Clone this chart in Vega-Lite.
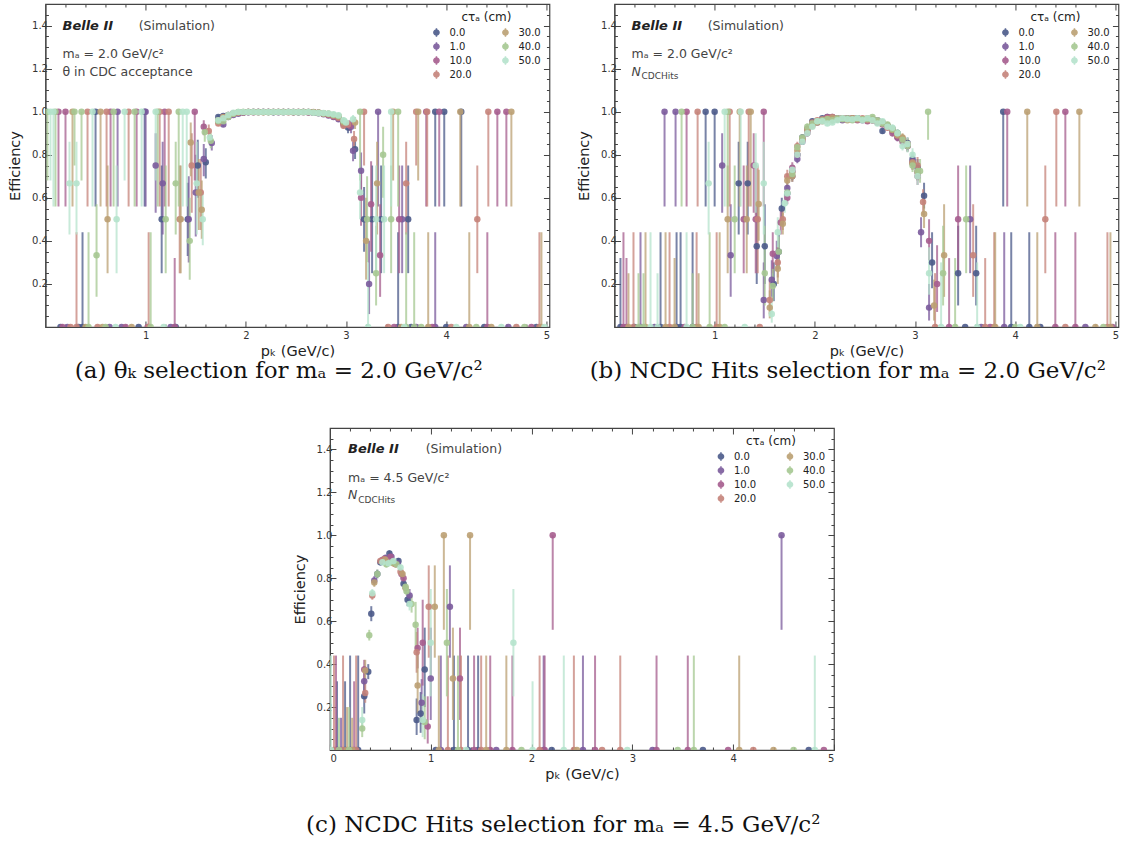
{
"$schema":"https://vega.github.io/schema/vega-lite/v6.json",
"background":"white",
"padding":{"left":6,"top":2,"right":2,"bottom":2},
"config":{"font":"DejaVu Sans","view":{"stroke":"#444","strokeWidth":1.2},
"axis":{"grid":false,"labelFontSize":10,"labelColor":"#333","titleFontSize":14.5,"titleFontWeight":"normal","titleColor":"#222","tickColor":"#444","domainColor":"#444","tickSize":-6,"labelPadding":4},
"axisX":{"labelPadding":9},
"axisY":{"titlePadding":9},
"legend":{"orient":"top-right","offset":8,"columns":2,"columnPadding":28,"rowPadding":1,"clipHeight":13,"labelOffset":8,"titlePadding":2,"titleFontSize":12,"titleFontWeight":"normal","titleColor":"#222","titleAnchor":"middle","labelFontSize":10,"labelColor":"#222","symbolType":"M0,-1.35L0,1.35M-0.8,0A0.8,0.8 0 1,0 0.8,0A0.8,0.8 0 1,0 -0.8,0Z","symbolSize":42,"symbolStrokeWidth":1.5,"symbolOpacity":0.9}},
"datasets":{
"A":[
{"s":"40.0","x":0.02,"y":1,"lo":0.68,"hi":1},{"s":"50.0","x":0.05,"y":1,"lo":0.68,"hi":1},{"s":"50.0","x":0.08,"y":1,"lo":0.56,"hi":1},{"s":"40.0","x":0.1,"y":1,"lo":0.56,"hi":1},{"s":"10.0","x":0.13,"y":1,"lo":0.56,"hi":1},{"s":"10.0","x":0.2,"y":1,"lo":0.56,"hi":1},{"s":"30.0","x":0.27,"y":1,"lo":0.56,"hi":1},{"s":"40.0","x":0.29,"y":1,"lo":0.75,"hi":1},{"s":"40.0","x":0.36,"y":1,"lo":0.68,"hi":1},{"s":"20.0","x":0.42,"y":1,"lo":0.56,"hi":1},{"s":"50.0","x":0.47,"y":1,"lo":0.56,"hi":1},{"s":"0.0","x":0.5,"y":1,"lo":0.56,"hi":1},{"s":"30.0","x":0.55,"y":1,"lo":0.56,"hi":1},{"s":"20.0","x":0.61,"y":1,"lo":0.56,"hi":1},{"s":"10.0","x":0.65,"y":1,"lo":0.56,"hi":1},{"s":"40.0","x":0.68,"y":1,"lo":0.56,"hi":1},{"s":"1.0","x":0.72,"y":1,"lo":0.56,"hi":1},{"s":"50.0","x":0.79,"y":1,"lo":0.68,"hi":1},{"s":"20.0","x":0.83,"y":1,"lo":0.56,"hi":1},{"s":"40.0","x":0.89,"y":1,"lo":0.56,"hi":1},{"s":"10.0","x":0.91,"y":1,"lo":0.56,"hi":1},{"s":"50.0","x":0.96,"y":1,"lo":0.56,"hi":1},{"s":"0.0","x":0.99,"y":1,"lo":0.56,"hi":1},{"s":"1.0","x":1.0,"y":1,"lo":0.56,"hi":1},{"s":"50.0","x":1.1,"y":1,"lo":0.68,"hi":1},{"s":"40.0","x":1.12,"y":1,"lo":0.56,"hi":1},{"s":"20.0","x":1.14,"y":1,"lo":0.56,"hi":1},{"s":"10.0","x":1.19,"y":1,"lo":0.56,"hi":1},{"s":"20.0","x":1.23,"y":1,"lo":0.56,"hi":1},{"s":"40.0","x":1.33,"y":1,"lo":0.56,"hi":1},{"s":"50.0","x":1.37,"y":1,"lo":0.56,"hi":1},{"s":"50.0","x":1.41,"y":1,"lo":0.56,"hi":1},{"s":"10.0","x":1.49,"y":1,"lo":0.68,"hi":1},
{"s":"50.0","x":0.24,"y":0.667,"lo":0.43,"hi":0.86},{"s":"50.0","x":0.31,"y":0.667,"lo":0.43,"hi":0.86},{"s":"40.0","x":0.51,"y":0.333,"lo":0.14,"hi":0.57},{"s":"30.0","x":0.62,"y":0.5,"lo":0.25,"hi":0.75},{"s":"50.0","x":0.71,"y":0.5,"lo":0.25,"hi":0.75},{"s":"1.0","x":1.1,"y":0.75,"lo":0.53,"hi":0.9},{"s":"0.0","x":1.16,"y":0.5,"lo":0.25,"hi":0.75},{"s":"1.0","x":1.17,"y":0.667,"lo":0.43,"hi":0.86},{"s":"40.0","x":1.2,"y":0.5,"lo":0.25,"hi":0.75},{"s":"40.0","x":1.3,"y":0.667,"lo":0.43,"hi":0.86},{"s":"20.0","x":1.34,"y":0.5,"lo":0.25,"hi":0.75},{"s":"30.0","x":1.35,"y":0.5,"lo":0.25,"hi":0.75},{"s":"0.0","x":1.42,"y":0.5,"lo":0.33,"hi":0.67},{"s":"1.0","x":1.43,"y":0.5,"lo":0.3,"hi":0.7},{"s":"40.0","x":1.44,"y":0.4,"lo":0.22,"hi":0.6},{"s":"30.0","x":1.45,"y":0.857,"lo":0.7,"hi":0.95},{"s":"20.0","x":1.46,"y":0.75,"lo":0.53,"hi":0.9},{"s":"1.0","x":1.5,"y":0.625,"lo":0.42,"hi":0.8},{"s":"50.0","x":1.51,"y":0.667,"lo":0.43,"hi":0.86},{"s":"0.0","x":1.52,"y":0.75,"lo":0.6,"hi":0.87},{"s":"30.0","x":1.53,"y":0.625,"lo":0.45,"hi":0.78},{"s":"20.0","x":1.55,"y":0.625,"lo":0.45,"hi":0.78},{"s":"30.0","x":1.56,"y":0.545,"lo":0.41,"hi":0.68},{"s":"50.0","x":1.57,"y":0.5,"lo":0.38,"hi":0.62},{"s":"1.0","x":1.58,"y":0.78,"lo":0.7,"hi":0.85},{"s":"10.0","x":1.58,"y":0.93,"lo":0.89,"hi":0.96},{"s":"40.0","x":1.59,"y":0.905,"lo":0.86,"hi":0.94},{"s":"0.0","x":1.6,"y":0.765,"lo":0.69,"hi":0.83},{"s":"20.0","x":1.63,"y":0.91,"lo":0.88,"hi":0.94},{"s":"50.0","x":1.64,"y":0.88,"lo":0.85,"hi":0.91},{"s":"40.0","x":1.65,"y":0.865,"lo":0.83,"hi":0.9},{"s":"1.0","x":1.66,"y":0.855,"lo":0.82,"hi":0.89},
{"s":"20.0","x":0.31,"y":0,"lo":0,"hi":0.44},{"s":"0.0","x":0.37,"y":0,"lo":0,"hi":0.44},{"s":"40.0","x":0.43,"y":0,"lo":0,"hi":0.44},{"s":"20.0","x":1.03,"y":0,"lo":0,"hi":0.44},{"s":"40.0","x":1.05,"y":0,"lo":0,"hi":0.44},{"s":"10.0","x":1.29,"y":0,"lo":0,"hi":0.32},
{"s":"0.0","x":0.15,"y":0,"lo":0,"hi":0},{"s":"10.0","x":0.17,"y":0,"lo":0,"hi":0},{"s":"1.0","x":0.22,"y":0,"lo":0,"hi":0},{"s":"20.0","x":0.25,"y":0,"lo":0,"hi":0},{"s":"0.0","x":0.33,"y":0,"lo":0,"hi":0},{"s":"30.0","x":0.4,"y":0,"lo":0,"hi":0},{"s":"20.0","x":0.52,"y":0,"lo":0,"hi":0},{"s":"30.0","x":0.57,"y":0,"lo":0,"hi":0},{"s":"40.0","x":0.6,"y":0,"lo":0,"hi":0},{"s":"1.0","x":0.64,"y":0,"lo":0,"hi":0},{"s":"50.0","x":0.7,"y":0,"lo":0,"hi":0},{"s":"1.0","x":0.76,"y":0,"lo":0,"hi":0},{"s":"10.0","x":0.8,"y":0,"lo":0,"hi":0},{"s":"30.0","x":0.86,"y":0,"lo":0,"hi":0},{"s":"0.0","x":0.93,"y":0,"lo":0,"hi":0},{"s":"10.0","x":1.02,"y":0,"lo":0,"hi":0},{"s":"50.0","x":1.18,"y":0,"lo":0,"hi":0},{"s":"1.0","x":1.25,"y":0,"lo":0,"hi":0},{"s":"0.0","x":1.3,"y":0,"lo":0,"hi":0},
{"s":"0.0","x":1.725,"y":0.975,"lo":0.965,"hi":0.985},{"s":"1.0","x":1.725,"y":0.955,"lo":0.945,"hi":0.965},{"s":"10.0","x":1.725,"y":0.955,"lo":0.945,"hi":0.965},{"s":"20.0","x":1.725,"y":0.945,"lo":0.935,"hi":0.955},{"s":"30.0","x":1.725,"y":0.96,"lo":0.95,"hi":0.97},{"s":"40.0","x":1.725,"y":0.955,"lo":0.945,"hi":0.965},{"s":"50.0","x":1.725,"y":0.96,"lo":0.95,"hi":0.97},
{"s":"0.0","x":1.775,"y":0.98,"lo":0.97,"hi":0.99},{"s":"1.0","x":1.775,"y":0.94,"lo":0.93,"hi":0.95},{"s":"10.0","x":1.775,"y":0.975,"lo":0.965,"hi":0.985},{"s":"20.0","x":1.775,"y":0.97,"lo":0.96,"hi":0.98},{"s":"30.0","x":1.775,"y":0.975,"lo":0.965,"hi":0.985},{"s":"40.0","x":1.775,"y":0.955,"lo":0.945,"hi":0.965},{"s":"50.0","x":1.775,"y":0.97,"lo":0.96,"hi":0.98},
{"s":"0.0","x":1.825,"y":0.985,"lo":0.975,"hi":0.995},{"s":"1.0","x":1.825,"y":0.975,"lo":0.965,"hi":0.985},{"s":"10.0","x":1.825,"y":0.98,"lo":0.97,"hi":0.99},{"s":"20.0","x":1.825,"y":0.985,"lo":0.975,"hi":0.995},{"s":"30.0","x":1.825,"y":0.98,"lo":0.97,"hi":0.99},{"s":"40.0","x":1.825,"y":0.975,"lo":0.965,"hi":0.985},{"s":"50.0","x":1.825,"y":0.985,"lo":0.975,"hi":0.995},
{"s":"0.0","x":1.875,"y":0.99,"lo":0.98,"hi":1},{"s":"1.0","x":1.875,"y":0.985,"lo":0.975,"hi":0.995},{"s":"10.0","x":1.875,"y":0.99,"lo":0.98,"hi":1},{"s":"20.0","x":1.875,"y":0.99,"lo":0.98,"hi":1},{"s":"30.0","x":1.875,"y":0.99,"lo":0.98,"hi":1},{"s":"40.0","x":1.875,"y":0.99,"lo":0.98,"hi":1},{"s":"50.0","x":1.875,"y":0.995,"lo":0.985,"hi":1},
{"s":"0.0","x":1.925,"y":0.995,"lo":0.985,"hi":1},{"s":"1.0","x":1.925,"y":0.99,"lo":0.98,"hi":1},{"s":"10.0","x":1.925,"y":0.995,"lo":0.985,"hi":1},{"s":"20.0","x":1.925,"y":0.995,"lo":0.985,"hi":1},{"s":"30.0","x":1.925,"y":0.997,"lo":0.987,"hi":1},{"s":"40.0","x":1.925,"y":0.998,"lo":0.988,"hi":1},{"s":"50.0","x":1.925,"y":0.998,"lo":0.988,"hi":1},
{"s":"0.0","x":1.975,"y":0.997,"lo":0.99,"hi":1},{"s":"1.0","x":1.975,"y":0.995,"lo":0.988,"hi":1},{"s":"10.0","x":1.975,"y":0.997,"lo":0.99,"hi":1},{"s":"20.0","x":1.975,"y":0.997,"lo":0.99,"hi":1},{"s":"30.0","x":1.975,"y":0.998,"lo":0.99,"hi":1},{"s":"40.0","x":1.975,"y":0.998,"lo":0.99,"hi":1},{"s":"50.0","x":1.975,"y":0.999,"lo":0.99,"hi":1},
{"s":"0.0","x":2.025,"y":0.998,"lo":0.99,"hi":1},{"s":"1.0","x":2.025,"y":0.997,"lo":0.99,"hi":1},{"s":"10.0","x":2.025,"y":0.998,"lo":0.99,"hi":1},{"s":"20.0","x":2.025,"y":0.999,"lo":0.99,"hi":1},{"s":"30.0","x":2.025,"y":0.998,"lo":0.99,"hi":1},{"s":"40.0","x":2.025,"y":0.999,"lo":0.99,"hi":1},{"s":"50.0","x":2.025,"y":0.998,"lo":0.99,"hi":1},
{"s":"0.0","x":2.075,"y":0.999,"lo":0.99,"hi":1},{"s":"1.0","x":2.075,"y":0.998,"lo":0.99,"hi":1},{"s":"10.0","x":2.075,"y":0.997,"lo":0.99,"hi":1},{"s":"20.0","x":2.075,"y":0.998,"lo":0.99,"hi":1},{"s":"30.0","x":2.075,"y":0.999,"lo":0.99,"hi":1},{"s":"40.0","x":2.075,"y":0.998,"lo":0.99,"hi":1},{"s":"50.0","x":2.075,"y":0.999,"lo":0.99,"hi":1},
{"s":"0.0","x":2.125,"y":0.998,"lo":0.99,"hi":1},{"s":"1.0","x":2.125,"y":0.999,"lo":0.99,"hi":1},{"s":"10.0","x":2.125,"y":0.998,"lo":0.99,"hi":1},{"s":"20.0","x":2.125,"y":0.997,"lo":0.99,"hi":1},{"s":"30.0","x":2.125,"y":0.998,"lo":0.99,"hi":1},{"s":"40.0","x":2.125,"y":0.999,"lo":0.99,"hi":1},{"s":"50.0","x":2.125,"y":0.997,"lo":0.99,"hi":1},
{"s":"0.0","x":2.175,"y":0.999,"lo":0.99,"hi":1},{"s":"1.0","x":2.175,"y":0.998,"lo":0.99,"hi":1},{"s":"10.0","x":2.175,"y":0.999,"lo":0.99,"hi":1},{"s":"20.0","x":2.175,"y":0.998,"lo":0.99,"hi":1},{"s":"30.0","x":2.175,"y":0.997,"lo":0.99,"hi":1},{"s":"40.0","x":2.175,"y":0.998,"lo":0.99,"hi":1},{"s":"50.0","x":2.175,"y":0.999,"lo":0.99,"hi":1},
{"s":"0.0","x":2.225,"y":0.998,"lo":0.99,"hi":1},{"s":"1.0","x":2.225,"y":0.999,"lo":0.99,"hi":1},{"s":"10.0","x":2.225,"y":0.998,"lo":0.99,"hi":1},{"s":"20.0","x":2.225,"y":0.999,"lo":0.99,"hi":1},{"s":"30.0","x":2.225,"y":0.998,"lo":0.99,"hi":1},{"s":"40.0","x":2.225,"y":0.997,"lo":0.99,"hi":1},{"s":"50.0","x":2.225,"y":0.998,"lo":0.99,"hi":1},
{"s":"0.0","x":2.275,"y":0.997,"lo":0.99,"hi":1},{"s":"1.0","x":2.275,"y":0.998,"lo":0.99,"hi":1},{"s":"10.0","x":2.275,"y":0.999,"lo":0.99,"hi":1},{"s":"20.0","x":2.275,"y":0.998,"lo":0.99,"hi":1},{"s":"30.0","x":2.275,"y":0.999,"lo":0.99,"hi":1},{"s":"40.0","x":2.275,"y":0.998,"lo":0.99,"hi":1},{"s":"50.0","x":2.275,"y":0.999,"lo":0.99,"hi":1},
{"s":"0.0","x":2.325,"y":0.999,"lo":0.99,"hi":1},{"s":"1.0","x":2.325,"y":0.997,"lo":0.99,"hi":1},{"s":"10.0","x":2.325,"y":0.998,"lo":0.99,"hi":1},{"s":"20.0","x":2.325,"y":0.999,"lo":0.99,"hi":1},{"s":"30.0","x":2.325,"y":0.998,"lo":0.99,"hi":1},{"s":"40.0","x":2.325,"y":0.999,"lo":0.99,"hi":1},{"s":"50.0","x":2.325,"y":0.998,"lo":0.99,"hi":1},
{"s":"0.0","x":2.375,"y":0.998,"lo":0.99,"hi":1},{"s":"1.0","x":2.375,"y":0.999,"lo":0.99,"hi":1},{"s":"10.0","x":2.375,"y":0.997,"lo":0.99,"hi":1},{"s":"20.0","x":2.375,"y":0.998,"lo":0.99,"hi":1},{"s":"30.0","x":2.375,"y":0.999,"lo":0.99,"hi":1},{"s":"40.0","x":2.375,"y":0.998,"lo":0.99,"hi":1},{"s":"50.0","x":2.375,"y":0.997,"lo":0.99,"hi":1},
{"s":"0.0","x":2.425,"y":0.999,"lo":0.99,"hi":1},{"s":"1.0","x":2.425,"y":0.998,"lo":0.99,"hi":1},{"s":"10.0","x":2.425,"y":0.999,"lo":0.99,"hi":1},{"s":"20.0","x":2.425,"y":0.997,"lo":0.99,"hi":1},{"s":"30.0","x":2.425,"y":0.998,"lo":0.99,"hi":1},{"s":"40.0","x":2.425,"y":0.999,"lo":0.99,"hi":1},{"s":"50.0","x":2.425,"y":0.998,"lo":0.99,"hi":1},
{"s":"0.0","x":2.475,"y":0.998,"lo":0.99,"hi":1},{"s":"1.0","x":2.475,"y":0.997,"lo":0.99,"hi":1},{"s":"10.0","x":2.475,"y":0.998,"lo":0.99,"hi":1},{"s":"20.0","x":2.475,"y":0.999,"lo":0.99,"hi":1},{"s":"30.0","x":2.475,"y":0.997,"lo":0.99,"hi":1},{"s":"40.0","x":2.475,"y":0.998,"lo":0.99,"hi":1},{"s":"50.0","x":2.475,"y":0.999,"lo":0.99,"hi":1},
{"s":"0.0","x":2.525,"y":0.997,"lo":0.99,"hi":1},{"s":"1.0","x":2.525,"y":0.998,"lo":0.99,"hi":1},{"s":"10.0","x":2.525,"y":0.999,"lo":0.99,"hi":1},{"s":"20.0","x":2.525,"y":0.998,"lo":0.99,"hi":1},{"s":"30.0","x":2.525,"y":0.999,"lo":0.99,"hi":1},{"s":"40.0","x":2.525,"y":0.997,"lo":0.99,"hi":1},{"s":"50.0","x":2.525,"y":0.998,"lo":0.99,"hi":1},
{"s":"0.0","x":2.575,"y":0.999,"lo":0.99,"hi":1},{"s":"1.0","x":2.575,"y":0.999,"lo":0.99,"hi":1},{"s":"10.0","x":2.575,"y":0.997,"lo":0.99,"hi":1},{"s":"20.0","x":2.575,"y":0.998,"lo":0.99,"hi":1},{"s":"30.0","x":2.575,"y":0.998,"lo":0.99,"hi":1},{"s":"40.0","x":2.575,"y":0.999,"lo":0.99,"hi":1},{"s":"50.0","x":2.575,"y":0.997,"lo":0.99,"hi":1},
{"s":"0.0","x":2.625,"y":0.998,"lo":0.99,"hi":1},{"s":"1.0","x":2.625,"y":0.996,"lo":0.988,"hi":1},{"s":"10.0","x":2.625,"y":0.998,"lo":0.99,"hi":1},{"s":"20.0","x":2.625,"y":0.997,"lo":0.99,"hi":1},{"s":"30.0","x":2.625,"y":0.999,"lo":0.99,"hi":1},{"s":"40.0","x":2.625,"y":0.998,"lo":0.99,"hi":1},{"s":"50.0","x":2.625,"y":0.999,"lo":0.99,"hi":1},
{"s":"0.0","x":2.675,"y":0.995,"lo":0.987,"hi":1},{"s":"1.0","x":2.675,"y":0.997,"lo":0.99,"hi":1},{"s":"10.0","x":2.675,"y":0.996,"lo":0.988,"hi":1},{"s":"20.0","x":2.675,"y":0.998,"lo":0.99,"hi":1},{"s":"30.0","x":2.675,"y":0.997,"lo":0.99,"hi":1},{"s":"40.0","x":2.675,"y":0.996,"lo":0.988,"hi":1},{"s":"50.0","x":2.675,"y":0.995,"lo":0.987,"hi":1},
{"s":"0.0","x":2.725,"y":0.993,"lo":0.985,"hi":1},{"s":"1.0","x":2.725,"y":0.995,"lo":0.987,"hi":1},{"s":"10.0","x":2.725,"y":0.995,"lo":0.987,"hi":1},{"s":"20.0","x":2.725,"y":0.994,"lo":0.986,"hi":1},{"s":"30.0","x":2.725,"y":0.996,"lo":0.988,"hi":1},{"s":"40.0","x":2.725,"y":0.995,"lo":0.987,"hi":1},{"s":"50.0","x":2.725,"y":0.994,"lo":0.986,"hi":1},
{"s":"0.0","x":2.775,"y":0.99,"lo":0.98,"hi":1},{"s":"1.0","x":2.775,"y":0.988,"lo":0.978,"hi":0.998},{"s":"10.0","x":2.775,"y":0.992,"lo":0.982,"hi":1},{"s":"20.0","x":2.775,"y":0.99,"lo":0.98,"hi":1},{"s":"30.0","x":2.775,"y":0.993,"lo":0.983,"hi":1},{"s":"40.0","x":2.775,"y":0.992,"lo":0.982,"hi":1},{"s":"50.0","x":2.775,"y":0.994,"lo":0.984,"hi":1},
{"s":"0.0","x":2.825,"y":0.988,"lo":0.978,"hi":0.998},{"s":"1.0","x":2.825,"y":0.982,"lo":0.972,"hi":0.992},{"s":"10.0","x":2.825,"y":0.985,"lo":0.975,"hi":0.995},{"s":"20.0","x":2.825,"y":0.987,"lo":0.977,"hi":0.997},{"s":"30.0","x":2.825,"y":0.99,"lo":0.98,"hi":1},{"s":"40.0","x":2.825,"y":0.99,"lo":0.98,"hi":1},{"s":"50.0","x":2.825,"y":0.992,"lo":0.982,"hi":1},
{"s":"0.0","x":2.875,"y":0.982,"lo":0.97,"hi":0.994},{"s":"1.0","x":2.875,"y":0.975,"lo":0.963,"hi":0.987},{"s":"10.0","x":2.875,"y":0.978,"lo":0.966,"hi":0.99},{"s":"20.0","x":2.875,"y":0.98,"lo":0.968,"hi":0.992},{"s":"30.0","x":2.875,"y":0.985,"lo":0.973,"hi":0.997},{"s":"40.0","x":2.875,"y":0.985,"lo":0.973,"hi":0.997},{"s":"50.0","x":2.875,"y":0.988,"lo":0.976,"hi":1},
{"s":"0.0","x":2.925,"y":0.975,"lo":0.962,"hi":0.988},{"s":"1.0","x":2.925,"y":0.965,"lo":0.952,"hi":0.978},{"s":"10.0","x":2.925,"y":0.97,"lo":0.957,"hi":0.983},{"s":"20.0","x":2.925,"y":0.972,"lo":0.959,"hi":0.985},{"s":"30.0","x":2.925,"y":0.978,"lo":0.965,"hi":0.991},{"s":"40.0","x":2.925,"y":0.98,"lo":0.967,"hi":0.993},{"s":"50.0","x":2.925,"y":0.983,"lo":0.97,"hi":0.996},
{"s":"0.0","x":2.975,"y":0.95,"lo":0.935,"hi":0.965},{"s":"1.0","x":2.975,"y":0.945,"lo":0.93,"hi":0.96},{"s":"10.0","x":2.975,"y":0.94,"lo":0.925,"hi":0.955},{"s":"20.0","x":2.975,"y":0.935,"lo":0.92,"hi":0.95},{"s":"30.0","x":2.975,"y":0.95,"lo":0.935,"hi":0.965},{"s":"40.0","x":2.975,"y":0.955,"lo":0.94,"hi":0.97},{"s":"50.0","x":2.975,"y":0.96,"lo":0.945,"hi":0.975},
{"s":"0.0","x":3.02,"y":0.927,"lo":0.9,"hi":0.95},{"s":"50.0","x":3.0,"y":0.95,"lo":0.93,"hi":0.97},{"s":"20.0","x":3.02,"y":0.94,"lo":0.915,"hi":0.96},{"s":"1.0","x":3.05,"y":0.93,"lo":0.9,"hi":0.955},{"s":"10.0","x":3.04,"y":0.935,"lo":0.91,"hi":0.96},{"s":"50.0","x":3.07,"y":0.965,"lo":0.94,"hi":0.985},{"s":"30.0","x":3.09,"y":0.95,"lo":0.92,"hi":0.975},{"s":"20.0","x":3.08,"y":0.873,"lo":0.83,"hi":0.91},{"s":"1.0","x":3.07,"y":0.819,"lo":0.77,"hi":0.86},{"s":"0.0","x":3.09,"y":0.826,"lo":0.78,"hi":0.87},{"s":"1.0","x":3.15,"y":0.726,"lo":0.63,"hi":0.81},{"s":"50.0","x":3.14,"y":0.625,"lo":0.5,"hi":0.74},{"s":"10.0","x":3.15,"y":0.6,"lo":0.47,"hi":0.72},{"s":"0.0","x":3.18,"y":0.5,"lo":0.35,"hi":0.65},{"s":"30.0","x":3.2,"y":0.4,"lo":0.22,"hi":0.6},{"s":"40.0","x":3.21,"y":0.5,"lo":0.3,"hi":0.7},{"s":"1.0","x":3.23,"y":0.2,"lo":0.06,"hi":0.4},{"s":"10.0","x":3.25,"y":0.57,"lo":0.35,"hi":0.77},{"s":"0.0","x":3.26,"y":0.5,"lo":0.25,"hi":0.75},{"s":"40.0","x":3.3,"y":0.25,"lo":0.1,"hi":0.47},{"s":"50.0","x":3.3,"y":0.5,"lo":0.25,"hi":0.75},{"s":"30.0","x":3.31,"y":0.667,"lo":0.43,"hi":0.86},{"s":"10.0","x":3.34,"y":0.333,"lo":0.14,"hi":0.57},{"s":"0.0","x":3.35,"y":0.5,"lo":0.25,"hi":0.75},{"s":"40.0","x":3.37,"y":0.8,"lo":0.6,"hi":0.93},{"s":"50.0","x":3.38,"y":0.5,"lo":0.25,"hi":0.75},{"s":"40.0","x":3.45,"y":0.5,"lo":0.25,"hi":0.75},{"s":"10.0","x":3.53,"y":0.5,"lo":0.25,"hi":0.75},{"s":"1.0","x":3.56,"y":0.5,"lo":0.25,"hi":0.75},{"s":"20.0","x":3.6,"y":0.667,"lo":0.43,"hi":0.86},{"s":"0.0","x":3.62,"y":0.5,"lo":0.25,"hi":0.75},{"s":"20.0","x":4.31,"y":0.5,"lo":0.25,"hi":0.75},
{"s":"40.0","x":3.14,"y":1,"lo":0.68,"hi":1},{"s":"20.0","x":3.18,"y":1,"lo":0.75,"hi":1},{"s":"1.0","x":3.32,"y":1,"lo":0.56,"hi":1},{"s":"50.0","x":3.45,"y":1,"lo":0.56,"hi":1},{"s":"30.0","x":3.47,"y":1,"lo":0.68,"hi":1},{"s":"40.0","x":3.52,"y":1,"lo":0.56,"hi":1},{"s":"20.0","x":3.7,"y":1,"lo":0.75,"hi":1},{"s":"30.0","x":3.72,"y":1,"lo":0.68,"hi":1},{"s":"10.0","x":3.8,"y":1,"lo":0.56,"hi":1},{"s":"20.0","x":3.81,"y":1,"lo":0.56,"hi":1},{"s":"0.0","x":3.89,"y":1,"lo":0.56,"hi":1},{"s":"10.0","x":3.93,"y":1,"lo":0.56,"hi":1},{"s":"0.0","x":3.98,"y":1,"lo":0.56,"hi":1},{"s":"30.0","x":4.14,"y":1,"lo":0.56,"hi":1},{"s":"0.0","x":4.15,"y":1,"lo":0.56,"hi":1},{"s":"20.0","x":4.42,"y":1,"lo":0.56,"hi":1},{"s":"10.0","x":4.51,"y":1,"lo":0.56,"hi":1},{"s":"10.0","x":4.6,"y":1,"lo":0.56,"hi":1},{"s":"30.0","x":4.65,"y":1,"lo":0.56,"hi":1},
{"s":"50.0","x":3.22,"y":0,"lo":0,"hi":0.3},{"s":"0.0","x":3.52,"y":0,"lo":0,"hi":0.44},{"s":"40.0","x":3.6,"y":0,"lo":0,"hi":0.44},{"s":"40.0","x":3.68,"y":0,"lo":0,"hi":0.44},{"s":"30.0","x":3.82,"y":0,"lo":0,"hi":0.44},{"s":"1.0","x":3.89,"y":0,"lo":0,"hi":0.44},{"s":"30.0","x":4.23,"y":0,"lo":0,"hi":0.44},{"s":"10.0","x":4.41,"y":0,"lo":0,"hi":0.44},{"s":"20.0","x":4.93,"y":0,"lo":0,"hi":0.44},{"s":"30.0","x":4.95,"y":0,"lo":0,"hi":0.44},
{"s":"20.0","x":3.42,"y":0,"lo":0,"hi":0},{"s":"10.0","x":3.48,"y":0,"lo":0,"hi":0},{"s":"30.0","x":3.55,"y":0,"lo":0,"hi":0},{"s":"50.0","x":3.58,"y":0,"lo":0,"hi":0},{"s":"0.0","x":3.65,"y":0,"lo":0,"hi":0},{"s":"1.0","x":3.7,"y":0,"lo":0,"hi":0},{"s":"40.0","x":3.75,"y":0,"lo":0,"hi":0},{"s":"10.0","x":3.86,"y":0,"lo":0,"hi":0},{"s":"0.0","x":4.0,"y":0,"lo":0,"hi":0},{"s":"20.0","x":4.05,"y":0,"lo":0,"hi":0},{"s":"50.0","x":4.1,"y":0,"lo":0,"hi":0},{"s":"1.0","x":4.2,"y":0,"lo":0,"hi":0},{"s":"40.0","x":4.3,"y":0,"lo":0,"hi":0},{"s":"0.0","x":4.38,"y":0,"lo":0,"hi":0},{"s":"30.0","x":4.45,"y":0,"lo":0,"hi":0},{"s":"50.0","x":4.55,"y":0,"lo":0,"hi":0},{"s":"1.0","x":4.62,"y":0,"lo":0,"hi":0},{"s":"20.0","x":4.7,"y":0,"lo":0,"hi":0},{"s":"40.0","x":4.78,"y":0,"lo":0,"hi":0},{"s":"10.0","x":4.85,"y":0,"lo":0,"hi":0},{"s":"0.0","x":4.9,"y":0,"lo":0,"hi":0},{"s":"50.0","x":4.98,"y":0,"lo":0,"hi":0}
],
"B":[
{"s":"1.0","x":0.5,"y":1,"lo":0.56,"hi":1},{"s":"1.0","x":0.61,"y":1,"lo":0.56,"hi":1},{"s":"40.0","x":0.67,"y":1,"lo":0.56,"hi":1},{"s":"10.0","x":0.72,"y":1,"lo":0.56,"hi":1},{"s":"20.0","x":0.83,"y":1,"lo":0.56,"hi":1},{"s":"0.0","x":0.91,"y":1,"lo":0.56,"hi":1},{"s":"0.0","x":1.0,"y":1,"lo":0.56,"hi":1},{"s":"50.0","x":1.1,"y":1,"lo":0.56,"hi":1},{"s":"40.0","x":1.13,"y":1,"lo":0.56,"hi":1},{"s":"20.0","x":1.15,"y":1,"lo":0.56,"hi":1},{"s":"30.0","x":1.25,"y":1,"lo":0.56,"hi":1},{"s":"50.0","x":1.26,"y":1,"lo":0.56,"hi":1},{"s":"20.0","x":1.34,"y":1,"lo":0.56,"hi":1},{"s":"30.0","x":1.36,"y":1,"lo":0.56,"hi":1},{"s":"10.0","x":1.49,"y":1,"lo":0.56,"hi":1},
{"s":"40.0","x":3.13,"y":1,"lo":0.87,"hi":1},{"s":"0.0","x":3.88,"y":1,"lo":0.56,"hi":1},{"s":"10.0","x":3.92,"y":1,"lo":0.56,"hi":1},{"s":"30.0","x":4.12,"y":1,"lo":0.56,"hi":1},{"s":"20.0","x":4.41,"y":1,"lo":0.56,"hi":1},{"s":"10.0","x":4.5,"y":1,"lo":0.56,"hi":1},{"s":"30.0","x":4.64,"y":1,"lo":0.56,"hi":1},
{"s":"1.0","x":1.075,"y":0.75,"lo":0.53,"hi":0.9},{"s":"50.0","x":0.94,"y":0.667,"lo":0.43,"hi":0.86},{"s":"0.0","x":1.24,"y":0.667,"lo":0.43,"hi":0.86},{"s":"0.0","x":1.33,"y":0.667,"lo":0.43,"hi":0.86},{"s":"50.0","x":1.49,"y":0.667,"lo":0.43,"hi":0.86},{"s":"10.0","x":1.39,"y":0.75,"lo":0.53,"hi":0.9},{"s":"50.0","x":1.41,"y":0.75,"lo":0.53,"hi":0.9},{"s":"30.0","x":1.13,"y":0.5,"lo":0.25,"hi":0.75},{"s":"40.0","x":1.2,"y":0.5,"lo":0.25,"hi":0.75},{"s":"10.0","x":1.29,"y":0.5,"lo":0.25,"hi":0.75},{"s":"30.0","x":1.32,"y":0.5,"lo":0.25,"hi":0.75},{"s":"10.0","x":1.41,"y":0.5,"lo":0.25,"hi":0.75},{"s":"20.0","x":1.43,"y":0.5,"lo":0.25,"hi":0.75},{"s":"1.0","x":1.16,"y":0.333,"lo":0.14,"hi":0.57},{"s":"0.0","x":1.42,"y":0.375,"lo":0.2,"hi":0.57},{"s":"0.0","x":1.5,"y":0.375,"lo":0.2,"hi":0.57},{"s":"30.0","x":1.44,"y":0.571,"lo":0.4,"hi":0.73},{"s":"40.0","x":1.5,"y":0.25,"lo":0.1,"hi":0.47},{"s":"1.0","x":1.49,"y":0.125,"lo":0.04,"hi":0.3},
{"s":"20.0","x":1.55,"y":0.125,"lo":0.06,"hi":0.22},{"s":"30.0","x":1.55,"y":0.09,"lo":0.04,"hi":0.17},{"s":"50.0","x":1.57,"y":0.06,"lo":0.02,"hi":0.13},{"s":"1.0","x":1.57,"y":0.22,"lo":0.14,"hi":0.31},{"s":"40.0","x":1.58,"y":0.19,"lo":0.12,"hi":0.27},{"s":"10.0","x":1.58,"y":0.34,"lo":0.25,"hi":0.44},{"s":"0.0","x":1.59,"y":0.2,"lo":0.12,"hi":0.3},
{"s":"20.0","x":1.63,"y":0.3,"lo":0.23,"hi":0.37},{"s":"30.0","x":1.63,"y":0.27,"lo":0.2,"hi":0.34},{"s":"40.0","x":1.64,"y":0.35,"lo":0.28,"hi":0.42},{"s":"0.0","x":1.64,"y":0.35,"lo":0.27,"hi":0.43},{"s":"50.0","x":1.63,"y":0.44,"lo":0.37,"hi":0.51},{"s":"1.0","x":1.62,"y":0.33,"lo":0.26,"hi":0.4},{"s":"10.0","x":1.66,"y":0.485,"lo":0.43,"hi":0.54},{"s":"0.0","x":1.67,"y":0.55,"lo":0.5,"hi":0.6},{"s":"50.0","x":1.7,"y":0.575,"lo":0.53,"hi":0.62},{"s":"20.0","x":1.68,"y":0.5,"lo":0.45,"hi":0.55},{"s":"30.0","x":1.68,"y":0.48,"lo":0.43,"hi":0.53},
{"s":"0.0","x":1.725,"y":0.62,"lo":0.59,"hi":0.65},{"s":"1.0","x":1.725,"y":0.645,"lo":0.615,"hi":0.675},{"s":"10.0","x":1.725,"y":0.6,"lo":0.57,"hi":0.63},{"s":"20.0","x":1.725,"y":0.7,"lo":0.67,"hi":0.73},{"s":"30.0","x":1.725,"y":0.68,"lo":0.65,"hi":0.71},{"s":"40.0","x":1.725,"y":0.625,"lo":0.595,"hi":0.655},{"s":"50.0","x":1.725,"y":0.62,"lo":0.59,"hi":0.65},
{"s":"0.0","x":1.775,"y":0.725,"lo":0.7,"hi":0.75},{"s":"1.0","x":1.775,"y":0.7,"lo":0.675,"hi":0.725},{"s":"10.0","x":1.775,"y":0.74,"lo":0.715,"hi":0.765},{"s":"20.0","x":1.775,"y":0.72,"lo":0.695,"hi":0.745},{"s":"30.0","x":1.775,"y":0.7,"lo":0.675,"hi":0.725},{"s":"40.0","x":1.775,"y":0.71,"lo":0.685,"hi":0.735},{"s":"50.0","x":1.775,"y":0.73,"lo":0.705,"hi":0.755},
{"s":"0.0","x":1.825,"y":0.8,"lo":0.78,"hi":0.82},{"s":"1.0","x":1.825,"y":0.78,"lo":0.76,"hi":0.8},{"s":"10.0","x":1.825,"y":0.8,"lo":0.78,"hi":0.82},{"s":"20.0","x":1.825,"y":0.84,"lo":0.82,"hi":0.86},{"s":"30.0","x":1.825,"y":0.82,"lo":0.8,"hi":0.84},{"s":"40.0","x":1.825,"y":0.835,"lo":0.815,"hi":0.855},{"s":"50.0","x":1.825,"y":0.8,"lo":0.78,"hi":0.82},
{"s":"0.0","x":1.875,"y":0.88,"lo":0.865,"hi":0.895},{"s":"1.0","x":1.875,"y":0.86,"lo":0.845,"hi":0.875},{"s":"10.0","x":1.875,"y":0.87,"lo":0.855,"hi":0.885},{"s":"20.0","x":1.875,"y":0.87,"lo":0.855,"hi":0.885},{"s":"30.0","x":1.875,"y":0.875,"lo":0.86,"hi":0.89},{"s":"40.0","x":1.875,"y":0.88,"lo":0.865,"hi":0.895},{"s":"50.0","x":1.875,"y":0.86,"lo":0.845,"hi":0.875},
{"s":"0.0","x":1.925,"y":0.92,"lo":0.905,"hi":0.935},{"s":"1.0","x":1.925,"y":0.91,"lo":0.895,"hi":0.925},{"s":"10.0","x":1.925,"y":0.9,"lo":0.885,"hi":0.915},{"s":"20.0","x":1.925,"y":0.92,"lo":0.905,"hi":0.935},{"s":"30.0","x":1.925,"y":0.915,"lo":0.9,"hi":0.93},{"s":"40.0","x":1.925,"y":0.93,"lo":0.915,"hi":0.945},{"s":"50.0","x":1.925,"y":0.9,"lo":0.885,"hi":0.915},
{"s":"0.0","x":1.975,"y":0.955,"lo":0.943,"hi":0.967},{"s":"1.0","x":1.975,"y":0.94,"lo":0.928,"hi":0.952},{"s":"10.0","x":1.975,"y":0.945,"lo":0.933,"hi":0.957},{"s":"20.0","x":1.975,"y":0.95,"lo":0.938,"hi":0.962},{"s":"30.0","x":1.975,"y":0.935,"lo":0.923,"hi":0.947},{"s":"40.0","x":1.975,"y":0.945,"lo":0.933,"hi":0.957},{"s":"50.0","x":1.975,"y":0.93,"lo":0.918,"hi":0.942},
{"s":"0.0","x":2.025,"y":0.955,"lo":0.943,"hi":0.967},{"s":"1.0","x":2.025,"y":0.95,"lo":0.938,"hi":0.962},{"s":"10.0","x":2.025,"y":0.955,"lo":0.943,"hi":0.967},{"s":"20.0","x":2.025,"y":0.96,"lo":0.948,"hi":0.972},{"s":"30.0","x":2.025,"y":0.95,"lo":0.938,"hi":0.962},{"s":"40.0","x":2.025,"y":0.955,"lo":0.943,"hi":0.967},{"s":"50.0","x":2.025,"y":0.955,"lo":0.943,"hi":0.967},
{"s":"0.0","x":2.075,"y":0.97,"lo":0.96,"hi":0.98},{"s":"1.0","x":2.075,"y":0.96,"lo":0.95,"hi":0.97},{"s":"10.0","x":2.075,"y":0.96,"lo":0.95,"hi":0.97},{"s":"20.0","x":2.075,"y":0.965,"lo":0.955,"hi":0.975},{"s":"30.0","x":2.075,"y":0.955,"lo":0.945,"hi":0.965},{"s":"40.0","x":2.075,"y":0.96,"lo":0.95,"hi":0.97},{"s":"50.0","x":2.075,"y":0.955,"lo":0.945,"hi":0.965},
{"s":"0.0","x":2.125,"y":0.975,"lo":0.965,"hi":0.985},{"s":"1.0","x":2.125,"y":0.97,"lo":0.96,"hi":0.98},{"s":"10.0","x":2.125,"y":0.975,"lo":0.965,"hi":0.985},{"s":"20.0","x":2.125,"y":0.97,"lo":0.96,"hi":0.98},{"s":"30.0","x":2.125,"y":0.965,"lo":0.955,"hi":0.975},{"s":"40.0","x":2.125,"y":0.965,"lo":0.955,"hi":0.975},{"s":"50.0","x":2.125,"y":0.945,"lo":0.935,"hi":0.955},
{"s":"0.0","x":2.175,"y":0.97,"lo":0.96,"hi":0.98},{"s":"1.0","x":2.175,"y":0.975,"lo":0.965,"hi":0.985},{"s":"10.0","x":2.175,"y":0.96,"lo":0.95,"hi":0.97},{"s":"20.0","x":2.175,"y":0.975,"lo":0.965,"hi":0.985},{"s":"30.0","x":2.175,"y":0.97,"lo":0.96,"hi":0.98},{"s":"40.0","x":2.175,"y":0.96,"lo":0.95,"hi":0.97},{"s":"50.0","x":2.175,"y":0.95,"lo":0.94,"hi":0.96},
{"s":"0.0","x":2.225,"y":0.965,"lo":0.955,"hi":0.975},{"s":"1.0","x":2.225,"y":0.97,"lo":0.96,"hi":0.98},{"s":"10.0","x":2.225,"y":0.97,"lo":0.96,"hi":0.98},{"s":"20.0","x":2.225,"y":0.965,"lo":0.955,"hi":0.975},{"s":"30.0","x":2.225,"y":0.965,"lo":0.955,"hi":0.975},{"s":"40.0","x":2.225,"y":0.97,"lo":0.96,"hi":0.98},{"s":"50.0","x":2.225,"y":0.96,"lo":0.95,"hi":0.97},
{"s":"0.0","x":2.275,"y":0.97,"lo":0.96,"hi":0.98},{"s":"1.0","x":2.275,"y":0.96,"lo":0.95,"hi":0.97},{"s":"10.0","x":2.275,"y":0.965,"lo":0.955,"hi":0.975},{"s":"20.0","x":2.275,"y":0.97,"lo":0.96,"hi":0.98},{"s":"30.0","x":2.275,"y":0.97,"lo":0.96,"hi":0.98},{"s":"40.0","x":2.275,"y":0.965,"lo":0.955,"hi":0.975},{"s":"50.0","x":2.275,"y":0.97,"lo":0.96,"hi":0.98},
{"s":"0.0","x":2.325,"y":0.965,"lo":0.955,"hi":0.975},{"s":"1.0","x":2.325,"y":0.97,"lo":0.96,"hi":0.98},{"s":"10.0","x":2.325,"y":0.97,"lo":0.96,"hi":0.98},{"s":"20.0","x":2.325,"y":0.965,"lo":0.955,"hi":0.975},{"s":"30.0","x":2.325,"y":0.96,"lo":0.95,"hi":0.97},{"s":"40.0","x":2.325,"y":0.97,"lo":0.96,"hi":0.98},{"s":"50.0","x":2.325,"y":0.965,"lo":0.955,"hi":0.975},
{"s":"0.0","x":2.375,"y":0.97,"lo":0.96,"hi":0.98},{"s":"1.0","x":2.375,"y":0.965,"lo":0.955,"hi":0.975},{"s":"10.0","x":2.375,"y":0.965,"lo":0.955,"hi":0.975},{"s":"20.0","x":2.375,"y":0.97,"lo":0.96,"hi":0.98},{"s":"30.0","x":2.375,"y":0.97,"lo":0.96,"hi":0.98},{"s":"40.0","x":2.375,"y":0.96,"lo":0.95,"hi":0.97},{"s":"50.0","x":2.375,"y":0.965,"lo":0.955,"hi":0.975},
{"s":"0.0","x":2.425,"y":0.97,"lo":0.96,"hi":0.98},{"s":"1.0","x":2.425,"y":0.97,"lo":0.96,"hi":0.98},{"s":"10.0","x":2.425,"y":0.96,"lo":0.95,"hi":0.97},{"s":"20.0","x":2.425,"y":0.965,"lo":0.955,"hi":0.975},{"s":"30.0","x":2.425,"y":0.965,"lo":0.955,"hi":0.975},{"s":"40.0","x":2.425,"y":0.97,"lo":0.96,"hi":0.98},{"s":"50.0","x":2.425,"y":0.97,"lo":0.96,"hi":0.98},
{"s":"0.0","x":2.475,"y":0.965,"lo":0.955,"hi":0.975},{"s":"1.0","x":2.475,"y":0.96,"lo":0.95,"hi":0.97},{"s":"10.0","x":2.475,"y":0.965,"lo":0.955,"hi":0.975},{"s":"20.0","x":2.475,"y":0.97,"lo":0.96,"hi":0.98},{"s":"30.0","x":2.475,"y":0.965,"lo":0.955,"hi":0.975},{"s":"40.0","x":2.475,"y":0.965,"lo":0.955,"hi":0.975},{"s":"50.0","x":2.475,"y":0.96,"lo":0.95,"hi":0.97},
{"s":"0.0","x":2.525,"y":0.96,"lo":0.95,"hi":0.97},{"s":"1.0","x":2.525,"y":0.965,"lo":0.955,"hi":0.975},{"s":"10.0","x":2.525,"y":0.955,"lo":0.945,"hi":0.965},{"s":"20.0","x":2.525,"y":0.96,"lo":0.95,"hi":0.97},{"s":"30.0","x":2.525,"y":0.97,"lo":0.96,"hi":0.98},{"s":"40.0","x":2.525,"y":0.965,"lo":0.955,"hi":0.975},{"s":"50.0","x":2.525,"y":0.97,"lo":0.96,"hi":0.98},
{"s":"0.0","x":2.575,"y":0.965,"lo":0.955,"hi":0.975},{"s":"1.0","x":2.575,"y":0.96,"lo":0.95,"hi":0.97},{"s":"10.0","x":2.575,"y":0.96,"lo":0.95,"hi":0.97},{"s":"20.0","x":2.575,"y":0.965,"lo":0.955,"hi":0.975},{"s":"30.0","x":2.575,"y":0.96,"lo":0.95,"hi":0.97},{"s":"40.0","x":2.575,"y":0.975,"lo":0.965,"hi":0.985},{"s":"50.0","x":2.575,"y":0.96,"lo":0.95,"hi":0.97},
{"s":"0.0","x":2.625,"y":0.955,"lo":0.945,"hi":0.965},{"s":"1.0","x":2.625,"y":0.96,"lo":0.95,"hi":0.97},{"s":"10.0","x":2.625,"y":0.95,"lo":0.94,"hi":0.96},{"s":"20.0","x":2.625,"y":0.955,"lo":0.945,"hi":0.965},{"s":"30.0","x":2.625,"y":0.955,"lo":0.945,"hi":0.965},{"s":"40.0","x":2.625,"y":0.96,"lo":0.95,"hi":0.97},{"s":"50.0","x":2.625,"y":0.945,"lo":0.935,"hi":0.955},
{"s":"0.0","x":2.675,"y":0.91,"lo":0.898,"hi":0.922},{"s":"1.0","x":2.675,"y":0.95,"lo":0.938,"hi":0.962},{"s":"10.0","x":2.675,"y":0.94,"lo":0.928,"hi":0.952},{"s":"20.0","x":2.675,"y":0.945,"lo":0.933,"hi":0.957},{"s":"30.0","x":2.675,"y":0.95,"lo":0.938,"hi":0.962},{"s":"40.0","x":2.675,"y":0.945,"lo":0.933,"hi":0.957},{"s":"50.0","x":2.675,"y":0.955,"lo":0.943,"hi":0.967},
{"s":"0.0","x":2.725,"y":0.935,"lo":0.922,"hi":0.948},{"s":"1.0","x":2.725,"y":0.93,"lo":0.917,"hi":0.943},{"s":"10.0","x":2.725,"y":0.93,"lo":0.917,"hi":0.943},{"s":"20.0","x":2.725,"y":0.925,"lo":0.912,"hi":0.938},{"s":"30.0","x":2.725,"y":0.935,"lo":0.922,"hi":0.948},{"s":"40.0","x":2.725,"y":0.94,"lo":0.927,"hi":0.953},{"s":"50.0","x":2.725,"y":0.93,"lo":0.917,"hi":0.943},
{"s":"0.0","x":2.775,"y":0.92,"lo":0.905,"hi":0.935},{"s":"1.0","x":2.775,"y":0.91,"lo":0.895,"hi":0.925},{"s":"10.0","x":2.775,"y":0.9,"lo":0.885,"hi":0.915},{"s":"20.0","x":2.775,"y":0.92,"lo":0.905,"hi":0.935},{"s":"30.0","x":2.775,"y":0.915,"lo":0.9,"hi":0.93},{"s":"40.0","x":2.775,"y":0.92,"lo":0.905,"hi":0.935},{"s":"50.0","x":2.775,"y":0.925,"lo":0.91,"hi":0.94},
{"s":"0.0","x":2.825,"y":0.9,"lo":0.883,"hi":0.917},{"s":"1.0","x":2.825,"y":0.88,"lo":0.863,"hi":0.897},{"s":"10.0","x":2.825,"y":0.88,"lo":0.863,"hi":0.897},{"s":"20.0","x":2.825,"y":0.89,"lo":0.873,"hi":0.907},{"s":"30.0","x":2.825,"y":0.89,"lo":0.873,"hi":0.907},{"s":"40.0","x":2.825,"y":0.9,"lo":0.883,"hi":0.917},{"s":"50.0","x":2.825,"y":0.9,"lo":0.883,"hi":0.917},
{"s":"0.0","x":2.875,"y":0.87,"lo":0.85,"hi":0.89},{"s":"1.0","x":2.875,"y":0.87,"lo":0.85,"hi":0.89},{"s":"10.0","x":2.875,"y":0.86,"lo":0.84,"hi":0.88},{"s":"20.0","x":2.875,"y":0.875,"lo":0.855,"hi":0.895},{"s":"30.0","x":2.875,"y":0.88,"lo":0.86,"hi":0.9},{"s":"40.0","x":2.875,"y":0.87,"lo":0.85,"hi":0.89},{"s":"50.0","x":2.875,"y":0.84,"lo":0.82,"hi":0.86},
{"s":"0.0","x":2.925,"y":0.855,"lo":0.83,"hi":0.88},{"s":"1.0","x":2.925,"y":0.84,"lo":0.815,"hi":0.865},{"s":"10.0","x":2.925,"y":0.84,"lo":0.815,"hi":0.865},{"s":"20.0","x":2.925,"y":0.85,"lo":0.825,"hi":0.875},{"s":"30.0","x":2.925,"y":0.85,"lo":0.825,"hi":0.875},{"s":"40.0","x":2.925,"y":0.84,"lo":0.815,"hi":0.865},{"s":"50.0","x":2.925,"y":0.85,"lo":0.81,"hi":0.88},
{"s":"0.0","x":2.975,"y":0.78,"lo":0.75,"hi":0.81},{"s":"1.0","x":2.975,"y":0.77,"lo":0.74,"hi":0.8},{"s":"10.0","x":2.975,"y":0.76,"lo":0.73,"hi":0.79},{"s":"20.0","x":2.975,"y":0.765,"lo":0.735,"hi":0.795},{"s":"30.0","x":2.975,"y":0.76,"lo":0.73,"hi":0.79},{"s":"40.0","x":2.975,"y":0.75,"lo":0.72,"hi":0.78},{"s":"50.0","x":2.975,"y":0.8,"lo":0.77,"hi":0.83},
{"s":"0.0","x":3.025,"y":0.74,"lo":0.7,"hi":0.78},{"s":"1.0","x":3.025,"y":0.72,"lo":0.68,"hi":0.76},{"s":"10.0","x":3.025,"y":0.7,"lo":0.66,"hi":0.74},{"s":"20.0","x":3.025,"y":0.75,"lo":0.71,"hi":0.79},{"s":"30.0","x":3.025,"y":0.72,"lo":0.68,"hi":0.76},{"s":"40.0","x":3.025,"y":0.725,"lo":0.685,"hi":0.765},{"s":"50.0","x":3.025,"y":0.7,"lo":0.66,"hi":0.74},
{"s":"0.0","x":3.09,"y":0.61,"lo":0.55,"hi":0.67},{"s":"20.0","x":3.08,"y":0.58,"lo":0.52,"hi":0.64},{"s":"30.0","x":3.09,"y":0.525,"lo":0.46,"hi":0.59},{"s":"1.0","x":3.06,"y":0.44,"lo":0.37,"hi":0.51},{"s":"40.0","x":3.05,"y":0.725,"lo":0.67,"hi":0.78},{"s":"10.0","x":3.14,"y":0.4,"lo":0.31,"hi":0.5},{"s":"50.0","x":3.14,"y":0.25,"lo":0.15,"hi":0.37},{"s":"1.0","x":3.14,"y":0.09,"lo":0.03,"hi":0.2},{"s":"0.0","x":3.17,"y":0.3,"lo":0.18,"hi":0.44},{"s":"30.0","x":3.19,"y":0.1,"lo":0.03,"hi":0.22},{"s":"10.0","x":3.22,"y":0.2,"lo":0.07,"hi":0.38},{"s":"40.0","x":3.28,"y":0.25,"lo":0.1,"hi":0.47},{"s":"30.0","x":3.29,"y":0.333,"lo":0.14,"hi":0.57},{"s":"10.0","x":3.43,"y":0.5,"lo":0.25,"hi":0.75},{"s":"0.0","x":3.43,"y":0.25,"lo":0.1,"hi":0.47},{"s":"40.0","x":3.51,"y":0.5,"lo":0.25,"hi":0.75},{"s":"1.0","x":3.55,"y":0.5,"lo":0.25,"hi":0.75},{"s":"20.0","x":3.58,"y":0.333,"lo":0.14,"hi":0.57},{"s":"0.0","x":3.61,"y":0.25,"lo":0.1,"hi":0.47},{"s":"20.0","x":4.3,"y":0.5,"lo":0.25,"hi":0.75},
{"s":"10.0","x":0.09,"y":0,"lo":0,"hi":0.44},{"s":"20.0","x":0.19,"y":0,"lo":0,"hi":0.44},{"s":"30.0","x":0.31,"y":0,"lo":0,"hi":0.44},{"s":"50.0","x":0.36,"y":0,"lo":0,"hi":0.44},{"s":"0.0","x":0.46,"y":0,"lo":0,"hi":0.44},{"s":"30.0","x":0.51,"y":0,"lo":0,"hi":0.44},{"s":"0.0","x":0.62,"y":0,"lo":0,"hi":0.44},{"s":"50.0","x":0.72,"y":0,"lo":0,"hi":0.44},{"s":"20.0","x":0.82,"y":0,"lo":0,"hi":0.44},{"s":"20.0","x":1.02,"y":0,"lo":0,"hi":0.44},{"s":"30.0","x":1.05,"y":0,"lo":0,"hi":0.44},{"s":"0.0","x":0.06,"y":0,"lo":0,"hi":0.32},{"s":"30.0","x":0.6,"y":0,"lo":0,"hi":0.32},{"s":"10.0","x":0.12,"y":0,"lo":0,"hi":0.32},{"s":"30.0","x":0.14,"y":0,"lo":0,"hi":0.25},{"s":"40.0","x":0.24,"y":0,"lo":0,"hi":0.25},{"s":"40.0","x":0.29,"y":0,"lo":0,"hi":0.25},{"s":"50.0","x":0.43,"y":0,"lo":0,"hi":0.25},{"s":"40.0","x":0.78,"y":0,"lo":0,"hi":0.25},{"s":"30.0","x":0.84,"y":0,"lo":0,"hi":0.25},{"s":"0.0","x":0.66,"y":0,"lo":0,"hi":0.44},{"s":"1.0","x":0.26,"y":0,"lo":0,"hi":0.44},{"s":"20.0","x":0.55,"y":0,"lo":0,"hi":0.44},{"s":"0.0","x":0.78,"y":0,"lo":0,"hi":0.44},{"s":"40.0","x":0.95,"y":0,"lo":0,"hi":0.44},
{"s":"20.0","x":3.79,"y":0,"lo":0,"hi":0.44},{"s":"30.0","x":3.8,"y":0,"lo":0,"hi":0.44},{"s":"1.0","x":3.89,"y":0,"lo":0,"hi":0.44},{"s":"0.0","x":3.96,"y":0,"lo":0,"hi":0.44},{"s":"0.0","x":4.14,"y":0,"lo":0,"hi":0.44},{"s":"30.0","x":4.22,"y":0,"lo":0,"hi":0.44},{"s":"10.0","x":4.4,"y":0,"lo":0,"hi":0.44},{"s":"10.0","x":4.6,"y":0,"lo":0,"hi":0.44},{"s":"20.0","x":4.92,"y":0,"lo":0,"hi":0.44},{"s":"30.0","x":4.95,"y":0,"lo":0,"hi":0.44},{"s":"10.0","x":3.34,"y":0,"lo":0,"hi":0.32},{"s":"20.0","x":3.7,"y":0,"lo":0,"hi":0.32},{"s":"50.0","x":3.26,"y":0,"lo":0,"hi":0.3},{"s":"40.0","x":3.4,"y":0,"lo":0,"hi":0.32},{"s":"20.0","x":3.2,"y":0,"lo":0,"hi":0.25},{"s":"50.0","x":3.62,"y":0,"lo":0,"hi":0.3},
{"s":"0.0","x":0.2,"y":0,"lo":0,"hi":0},{"s":"1.0","x":0.4,"y":0,"lo":0,"hi":0},{"s":"10.0","x":0.7,"y":0,"lo":0,"hi":0},{"s":"40.0","x":1.1,"y":0,"lo":0,"hi":0},{"s":"50.0","x":1.3,"y":0,"lo":0,"hi":0},{"s":"20.0","x":1.45,"y":0,"lo":0,"hi":0},{"s":"0.0","x":3.5,"y":0,"lo":0,"hi":0},{"s":"1.0","x":3.66,"y":0,"lo":0,"hi":0},{"s":"10.0","x":3.75,"y":0,"lo":0,"hi":0},{"s":"40.0","x":4.0,"y":0,"lo":0,"hi":0},{"s":"50.0","x":4.05,"y":0,"lo":0,"hi":0},{"s":"0.0","x":4.25,"y":0,"lo":0,"hi":0},{"s":"20.0","x":4.5,"y":0,"lo":0,"hi":0},{"s":"1.0","x":4.7,"y":0,"lo":0,"hi":0},{"s":"30.0","x":4.8,"y":0,"lo":0,"hi":0},{"s":"40.0","x":4.88,"y":0,"lo":0,"hi":0},{"s":"10.0","x":4.97,"y":0,"lo":0,"hi":0}
],
"C":[
{"s":"40.0","x":0.32,"y":0.1,"lo":0.06,"hi":0.15},{"s":"50.0","x":0.32,"y":0.14,"lo":0.09,"hi":0.2},{"s":"0.0","x":0.34,"y":0.25,"lo":0.17,"hi":0.33},{"s":"1.0","x":0.34,"y":0.32,"lo":0.25,"hi":0.39},{"s":"10.0","x":0.34,"y":0.375,"lo":0.33,"hi":0.42},{"s":"20.0","x":0.35,"y":0.265,"lo":0.22,"hi":0.31},{"s":"30.0","x":0.35,"y":0.37,"lo":0.32,"hi":0.42},{"s":"0.0","x":0.38,"y":0.365,"lo":0.33,"hi":0.4},{"s":"40.0","x":0.39,"y":0.535,"lo":0.51,"hi":0.56},{"s":"0.0","x":0.41,"y":0.635,"lo":0.6,"hi":0.67},{"s":"50.0","x":0.42,"y":0.73,"lo":0.71,"hi":0.75},{"s":"20.0","x":0.42,"y":0.72,"lo":0.7,"hi":0.74},{"s":"1.0","x":0.44,"y":0.79,"lo":0.77,"hi":0.81},{"s":"30.0","x":0.44,"y":0.78,"lo":0.76,"hi":0.8},{"s":"0.0","x":0.47,"y":0.82,"lo":0.8,"hi":0.84},{"s":"40.0","x":0.47,"y":0.82,"lo":0.8,"hi":0.84},{"s":"0.0","x":0.5,"y":0.875,"lo":0.86,"hi":0.89},{"s":"20.0","x":0.5,"y":0.88,"lo":0.865,"hi":0.895},{"s":"10.0","x":0.52,"y":0.885,"lo":0.87,"hi":0.9},{"s":"50.0","x":0.52,"y":0.875,"lo":0.86,"hi":0.89},{"s":"20.0","x":0.54,"y":0.89,"lo":0.875,"hi":0.905},{"s":"1.0","x":0.55,"y":0.895,"lo":0.88,"hi":0.91},{"s":"30.0","x":0.55,"y":0.885,"lo":0.87,"hi":0.9},{"s":"40.0","x":0.56,"y":0.865,"lo":0.85,"hi":0.88},{"s":"0.0","x":0.59,"y":0.915,"lo":0.9,"hi":0.93},{"s":"50.0","x":0.58,"y":0.87,"lo":0.855,"hi":0.885},{"s":"10.0","x":0.6,"y":0.9,"lo":0.885,"hi":0.915},{"s":"1.0","x":0.61,"y":0.9,"lo":0.885,"hi":0.915},{"s":"40.0","x":0.61,"y":0.875,"lo":0.86,"hi":0.89},{"s":"50.0","x":0.63,"y":0.88,"lo":0.865,"hi":0.895},{"s":"30.0","x":0.63,"y":0.87,"lo":0.855,"hi":0.885},{"s":"20.0","x":0.65,"y":0.865,"lo":0.85,"hi":0.88},{"s":"40.0","x":0.66,"y":0.865,"lo":0.85,"hi":0.88},{"s":"1.0","x":0.67,"y":0.87,"lo":0.855,"hi":0.885},{"s":"0.0","x":0.68,"y":0.88,"lo":0.865,"hi":0.895},{"s":"20.0","x":0.7,"y":0.83,"lo":0.81,"hi":0.85},{"s":"50.0","x":0.7,"y":0.85,"lo":0.83,"hi":0.87},{"s":"10.0","x":0.71,"y":0.82,"lo":0.8,"hi":0.84},{"s":"30.0","x":0.72,"y":0.82,"lo":0.8,"hi":0.84},{"s":"10.0","x":0.73,"y":0.8,"lo":0.78,"hi":0.82},{"s":"0.0","x":0.73,"y":0.775,"lo":0.75,"hi":0.8},{"s":"40.0","x":0.75,"y":0.76,"lo":0.74,"hi":0.78},{"s":"30.0","x":0.75,"y":0.755,"lo":0.73,"hi":0.78},{"s":"40.0","x":0.76,"y":0.74,"lo":0.72,"hi":0.76},{"s":"0.0","x":0.77,"y":0.7,"lo":0.67,"hi":0.73},{"s":"1.0","x":0.79,"y":0.72,"lo":0.69,"hi":0.75},{"s":"50.0","x":0.79,"y":0.68,"lo":0.65,"hi":0.71},{"s":"40.0","x":0.81,"y":0.68,"lo":0.64,"hi":0.72},
{"s":"40.0","x":0.85,"y":0.583,"lo":0.47,"hi":0.69},{"s":"10.0","x":0.87,"y":0.475,"lo":0.38,"hi":0.57},{"s":"20.0","x":0.86,"y":0.455,"lo":0.36,"hi":0.55},{"s":"10.0","x":0.92,"y":0.5,"lo":0.3,"hi":0.7},{"s":"30.0","x":0.87,"y":0.3,"lo":0.17,"hi":0.45},{"s":"1.0","x":0.91,"y":0.22,"lo":0.12,"hi":0.33},{"s":"0.0","x":0.86,"y":0.14,"lo":0.07,"hi":0.24},{"s":"0.0","x":0.9,"y":0.17,"lo":0.08,"hi":0.27},{"s":"50.0","x":0.92,"y":0.14,"lo":0.06,"hi":0.26},{"s":"40.0","x":0.94,"y":0.13,"lo":0.05,"hi":0.25},{"s":"10.0","x":0.97,"y":0.11,"lo":0.03,"hi":0.25},{"s":"0.0","x":0.94,"y":0.375,"lo":0.2,"hi":0.57},{"s":"1.0","x":1.0,"y":0.333,"lo":0.14,"hi":0.57},{"s":"20.0","x":0.98,"y":0.667,"lo":0.43,"hi":0.86},{"s":"30.0","x":1.04,"y":0.667,"lo":0.43,"hi":0.86},{"s":"50.0","x":1.0,"y":0.5,"lo":0.25,"hi":0.75},{"s":"40.0","x":1.16,"y":0.5,"lo":0.25,"hi":0.75},{"s":"1.0","x":1.19,"y":0.667,"lo":0.43,"hi":0.86},{"s":"30.0","x":1.22,"y":0.333,"lo":0.14,"hi":0.57},{"s":"10.0","x":1.29,"y":0.333,"lo":0.14,"hi":0.57},{"s":"30.0","x":1.13,"y":1,"lo":0.56,"hi":1},{"s":"30.0","x":1.39,"y":1,"lo":0.56,"hi":1},{"s":"50.0","x":1.82,"y":0.5,"lo":0.25,"hi":0.75},{"s":"10.0","x":2.21,"y":1,"lo":0.56,"hi":1},{"s":"1.0","x":4.48,"y":1,"lo":0.56,"hi":1},
{"s":"50.0","x":0.01,"y":0,"lo":0,"hi":0.44},{"s":"20.0","x":0.04,"y":0,"lo":0,"hi":0.44},{"s":"10.0","x":0.06,"y":0,"lo":0,"hi":0.44},{"s":"0.0","x":0.07,"y":0,"lo":0,"hi":0.32},{"s":"40.0","x":0.09,"y":0,"lo":0,"hi":0.15},{"s":"1.0","x":0.11,"y":0,"lo":0,"hi":0.15},{"s":"20.0","x":0.13,"y":0,"lo":0,"hi":0.44},{"s":"0.0","x":0.15,"y":0,"lo":0,"hi":0.32},{"s":"30.0","x":0.17,"y":0,"lo":0,"hi":0.2},{"s":"40.0","x":0.19,"y":0,"lo":0,"hi":0.2},{"s":"0.0","x":0.2,"y":0,"lo":0,"hi":0.44},{"s":"30.0","x":0.22,"y":0,"lo":0,"hi":0.15},{"s":"10.0","x":0.24,"y":0,"lo":0,"hi":0.32},{"s":"20.0","x":0.26,"y":0,"lo":0,"hi":0.44},{"s":"0.0","x":0.28,"y":0,"lo":0,"hi":0.44},
{"s":"30.0","x":1.08,"y":0,"lo":0,"hi":0.44},{"s":"1.0","x":1.1,"y":0,"lo":0,"hi":0.44},{"s":"20.0","x":1.17,"y":0,"lo":0,"hi":0.44},{"s":"0.0","x":1.23,"y":0,"lo":0,"hi":0.44},{"s":"40.0","x":1.27,"y":0,"lo":0,"hi":0.44},{"s":"20.0","x":1.3,"y":0,"lo":0,"hi":0.44},{"s":"0.0","x":1.37,"y":0,"lo":0,"hi":0.44},{"s":"10.0","x":1.43,"y":0,"lo":0,"hi":0.44},{"s":"0.0","x":1.47,"y":0,"lo":0,"hi":0.44},{"s":"20.0","x":1.5,"y":0,"lo":0,"hi":0.44},{"s":"30.0","x":1.55,"y":0,"lo":0,"hi":0.44},{"s":"10.0","x":1.59,"y":0,"lo":0,"hi":0.44},{"s":"30.0","x":1.75,"y":0,"lo":0,"hi":0.44},{"s":"10.0","x":1.81,"y":0,"lo":0,"hi":0.44},{"s":"50.0","x":2.01,"y":0,"lo":0,"hi":0.32},{"s":"20.0","x":2.08,"y":0,"lo":0,"hi":0.44},{"s":"1.0","x":2.12,"y":0,"lo":0,"hi":0.44},{"s":"10.0","x":2.13,"y":0,"lo":0,"hi":0.44},{"s":"50.0","x":2.32,"y":0,"lo":0,"hi":0.44},{"s":"20.0","x":2.42,"y":0,"lo":0,"hi":0.44},{"s":"1.0","x":2.51,"y":0,"lo":0,"hi":0.44},{"s":"10.0","x":2.63,"y":0,"lo":0,"hi":0.44},{"s":"20.0","x":2.88,"y":0,"lo":0,"hi":0.44},{"s":"10.0","x":3.24,"y":0,"lo":0,"hi":0.44},{"s":"10.0","x":3.55,"y":0,"lo":0,"hi":0.44},{"s":"40.0","x":3.61,"y":0,"lo":0,"hi":0.44},{"s":"30.0","x":4.06,"y":0,"lo":0,"hi":0.44},{"s":"50.0","x":4.81,"y":0,"lo":0,"hi":0.44},
{"s":"0.0","x":1.05,"y":0,"lo":0,"hi":0},{"s":"50.0","x":1.35,"y":0,"lo":0,"hi":0},{"s":"1.0","x":1.65,"y":0,"lo":0,"hi":0},{"s":"40.0","x":1.9,"y":0,"lo":0,"hi":0},{"s":"0.0","x":2.2,"y":0,"lo":0,"hi":0},{"s":"30.0","x":2.45,"y":0,"lo":0,"hi":0},{"s":"20.0","x":2.7,"y":0,"lo":0,"hi":0},{"s":"50.0","x":2.95,"y":0,"lo":0,"hi":0},{"s":"1.0","x":3.2,"y":0,"lo":0,"hi":0},{"s":"40.0","x":3.45,"y":0,"lo":0,"hi":0},{"s":"0.0","x":3.7,"y":0,"lo":0,"hi":0},{"s":"10.0","x":3.95,"y":0,"lo":0,"hi":0},{"s":"20.0","x":4.2,"y":0,"lo":0,"hi":0},{"s":"30.0","x":4.4,"y":0,"lo":0,"hi":0},{"s":"40.0","x":4.6,"y":0,"lo":0,"hi":0},{"s":"0.0","x":4.75,"y":0,"lo":0,"hi":0},{"s":"10.0","x":4.9,"y":0,"lo":0,"hi":0}
]
},
"resolve":{"scale":{"color":"independent"},"legend":{"color":"independent"}},
"center":true,
"spacing":42,
"vconcat":[
{"hconcat":[
{"width":504,"height":323,"data":{"name":"A"},
"title":{"text":"(a)  θₖ selection for mₐ = 2.0 GeV/c²","orient":"bottom","frame":"bounds","font":"DejaVu Serif","fontSize":23,"fontWeight":"normal","color":"#111","offset":2},
"resolve":{"axis":{"x":"independent","y":"independent"}},
"layer":[
{"mark":{"type":"rule","strokeWidth":2,"opacity":0.75,"clip":true},
"encoding":{"x":{"field":"x","type":"quantitative","scale":{"domain":[0,5.03],"nice":false,"zero":false},"axis":{"values":[1,2,3,4,5],"format":"d","title":"pₖ (GeV/c)"}},
"y":{"field":"lo","type":"quantitative","scale":{"domain":[0,1.5],"nice":false},"axis":{"values":[0.2,0.4,0.6,0.8,1.0,1.2,1.4],"format":".1f","title":"Efficiency"}},
"y2":{"field":"hi"},
"color":{"field":"s","type":"nominal","scale":{"domain":["0.0","1.0","10.0","20.0","30.0","40.0","50.0"],"range":["#4b5a8a","#7b5b9c","#a65d8e","#c5837a","#bba073","#a6c892","#b5e3cc"]},"legend":{"title":"cτₐ (cm)"}},
"order":{"field":"s","type":"ordinal"}}},
{"mark":{"type":"circle","size":42,"opacity":0.9,"clip":true},
"encoding":{"x":{"field":"x","type":"quantitative","axis":{"orient":"top","values":[1,2,3,4,5],"labels":false,"title":null,"domain":false}},"y":{"field":"y","type":"quantitative","axis":{"orient":"right","values":[0.2,0.4,0.6,0.8,1.0,1.2,1.4],"labels":false,"title":null,"domain":false}},"color":{"field":"s","type":"nominal"},"order":{"field":"s","type":"ordinal"}}},
{"data":{"values":[{}]},"mark":{"type":"text","text":"Belle II","align":"left","baseline":"middle","fontSize":13,"fontWeight":"bold","fontStyle":"italic","color":"#222"},"encoding":{"x":{"datum":0.17,"type":"quantitative","axis":{"orient":"bottom","values":[0.2,0.4,0.6,0.8,1.2,1.4,1.6,1.8,2.2,2.4,2.6,2.8,3.2,3.4,3.6,3.8,4.2,4.4,4.6,4.8],"labels":false,"title":null,"domain":false,"tickSize":-3}},"y":{"datum":1.4,"type":"quantitative","axis":{"orient":"left","values":[0.05,0.1,0.15,0.25,0.3,0.35,0.45,0.5,0.55,0.65,0.7,0.75,0.85,0.9,0.95,1.05,1.1,1.15,1.25,1.3,1.35,1.45],"labels":false,"title":null,"domain":false,"tickSize":-3}}}},
{"data":{"values":[{}]},"mark":{"type":"text","text":"(Simulation)","align":"left","baseline":"middle","fontSize":12.5,"color":"#444"},"encoding":{"x":{"datum":0.93,"type":"quantitative","axis":{"orient":"top","values":[0.2,0.4,0.6,0.8,1.2,1.4,1.6,1.8,2.2,2.4,2.6,2.8,3.2,3.4,3.6,3.8,4.2,4.4,4.6,4.8],"labels":false,"title":null,"domain":false,"tickSize":-3}},"y":{"datum":1.4,"type":"quantitative","axis":{"orient":"right","values":[0.05,0.1,0.15,0.25,0.3,0.35,0.45,0.5,0.55,0.65,0.7,0.75,0.85,0.9,0.95,1.05,1.1,1.15,1.25,1.3,1.35,1.45],"labels":false,"title":null,"domain":false,"tickSize":-3}}}},
{"data":{"values":[{}]},"mark":{"type":"text","text":"mₐ = 2.0 GeV/c²","align":"left","baseline":"middle","fontSize":12.5,"color":"#444"},"encoding":{"x":{"datum":0.17,"type":"quantitative","axis":null},"y":{"datum":1.268,"type":"quantitative","axis":null}}},
{"data":{"values":[{}]},"mark":{"type":"text","text":"θ in CDC acceptance","align":"left","baseline":"middle","fontSize":12.5,"color":"#444"},"encoding":{"x":{"datum":0.17,"type":"quantitative","axis":null},"y":{"datum":1.186,"type":"quantitative","axis":null}}}
]},
{"width":504,"height":323,"data":{"name":"B"},
"title":{"text":"(b)  NCDC Hits selection for mₐ = 2.0 GeV/c²","orient":"bottom","frame":"bounds","font":"DejaVu Serif","fontSize":23,"fontWeight":"normal","color":"#111","offset":2},
"resolve":{"axis":{"x":"independent","y":"independent"}},
"layer":[
{"mark":{"type":"rule","strokeWidth":2,"opacity":0.75,"clip":true},
"encoding":{"x":{"field":"x","type":"quantitative","scale":{"domain":[0,5.03],"nice":false,"zero":false},"axis":{"values":[1,2,3,4,5],"format":"d","title":"pₖ (GeV/c)"}},
"y":{"field":"lo","type":"quantitative","scale":{"domain":[0,1.5],"nice":false},"axis":{"values":[0.2,0.4,0.6,0.8,1.0,1.2,1.4],"format":".1f","title":"Efficiency"}},
"y2":{"field":"hi"},
"color":{"field":"s","type":"nominal","scale":{"domain":["0.0","1.0","10.0","20.0","30.0","40.0","50.0"],"range":["#4b5a8a","#7b5b9c","#a65d8e","#c5837a","#bba073","#a6c892","#b5e3cc"]},"legend":{"title":"cτₐ (cm)"}},
"order":{"field":"s","type":"ordinal"}}},
{"mark":{"type":"circle","size":42,"opacity":0.9,"clip":true},
"encoding":{"x":{"field":"x","type":"quantitative","axis":{"orient":"top","values":[1,2,3,4,5],"labels":false,"title":null,"domain":false}},"y":{"field":"y","type":"quantitative","axis":{"orient":"right","values":[0.2,0.4,0.6,0.8,1.0,1.2,1.4],"labels":false,"title":null,"domain":false}},"color":{"field":"s","type":"nominal"},"order":{"field":"s","type":"ordinal"}}},
{"data":{"values":[{}]},"mark":{"type":"text","text":"Belle II","align":"left","baseline":"middle","fontSize":13,"fontWeight":"bold","fontStyle":"italic","color":"#222"},"encoding":{"x":{"datum":0.17,"type":"quantitative","axis":{"orient":"bottom","values":[0.2,0.4,0.6,0.8,1.2,1.4,1.6,1.8,2.2,2.4,2.6,2.8,3.2,3.4,3.6,3.8,4.2,4.4,4.6,4.8],"labels":false,"title":null,"domain":false,"tickSize":-3}},"y":{"datum":1.4,"type":"quantitative","axis":{"orient":"left","values":[0.05,0.1,0.15,0.25,0.3,0.35,0.45,0.5,0.55,0.65,0.7,0.75,0.85,0.9,0.95,1.05,1.1,1.15,1.25,1.3,1.35,1.45],"labels":false,"title":null,"domain":false,"tickSize":-3}}}},
{"data":{"values":[{}]},"mark":{"type":"text","text":"(Simulation)","align":"left","baseline":"middle","fontSize":12.5,"color":"#444"},"encoding":{"x":{"datum":0.93,"type":"quantitative","axis":{"orient":"top","values":[0.2,0.4,0.6,0.8,1.2,1.4,1.6,1.8,2.2,2.4,2.6,2.8,3.2,3.4,3.6,3.8,4.2,4.4,4.6,4.8],"labels":false,"title":null,"domain":false,"tickSize":-3}},"y":{"datum":1.4,"type":"quantitative","axis":{"orient":"right","values":[0.05,0.1,0.15,0.25,0.3,0.35,0.45,0.5,0.55,0.65,0.7,0.75,0.85,0.9,0.95,1.05,1.1,1.15,1.25,1.3,1.35,1.45],"labels":false,"title":null,"domain":false,"tickSize":-3}}}},
{"data":{"values":[{}]},"mark":{"type":"text","text":"mₐ = 2.0 GeV/c²","align":"left","baseline":"middle","fontSize":12.5,"color":"#444"},"encoding":{"x":{"datum":0.17,"type":"quantitative","axis":null},"y":{"datum":1.268,"type":"quantitative","axis":null}}},
{"data":{"values":[{}]},"mark":{"type":"text","text":"N","align":"left","baseline":"middle","fontSize":12.5,"fontStyle":"italic","color":"#444"},"encoding":{"x":{"datum":0.17,"type":"quantitative","axis":null},"y":{"datum":1.186,"type":"quantitative","axis":null}}},
{"data":{"values":[{}]},"mark":{"type":"text","text":"CDCHits","align":"left","baseline":"middle","fontSize":9,"color":"#444"},"encoding":{"x":{"datum":0.27,"type":"quantitative","axis":null},"y":{"datum":1.166,"type":"quantitative","axis":null}}}
]}
],"spacing":24,"resolve":{"scale":{"color":"independent"},"legend":{"color":"independent"}}},
{"width":504,"height":322,"data":{"name":"C"},
"title":{"text":"(c)  NCDC Hits selection for mₐ = 4.5 GeV/c²","orient":"bottom","frame":"bounds","font":"DejaVu Serif","fontSize":23,"fontWeight":"normal","color":"#111","offset":33},
"resolve":{"axis":{"x":"independent","y":"independent"}},
"layer":[
{"mark":{"type":"rule","strokeWidth":2,"opacity":0.75,"clip":true},
"encoding":{"x":{"field":"x","type":"quantitative","scale":{"domain":[0,5],"nice":false,"zero":false},"axis":{"values":[0,1,2,3,4,5],"format":"d","title":"pₖ (GeV/c)"}},
"y":{"field":"lo","type":"quantitative","scale":{"domain":[0,1.5],"nice":false},"axis":{"values":[0.2,0.4,0.6,0.8,1.0,1.2,1.4],"format":".1f","title":"Efficiency"}},
"y2":{"field":"hi"},
"color":{"field":"s","type":"nominal","scale":{"domain":["0.0","1.0","10.0","20.0","30.0","40.0","50.0"],"range":["#4b5a8a","#7b5b9c","#a65d8e","#c5837a","#bba073","#a6c892","#b5e3cc"]},"legend":{"title":"cτₐ (cm)"}},
"order":{"field":"s","type":"ordinal"}}},
{"mark":{"type":"circle","size":42,"opacity":0.9,"clip":true},
"encoding":{"x":{"field":"x","type":"quantitative","axis":{"orient":"top","values":[1,2,3,4],"labels":false,"title":null,"domain":false}},"y":{"field":"y","type":"quantitative","axis":{"orient":"right","values":[0.2,0.4,0.6,0.8,1.0,1.2,1.4],"labels":false,"title":null,"domain":false}},"color":{"field":"s","type":"nominal"},"order":{"field":"s","type":"ordinal"}}},
{"data":{"values":[{}]},"mark":{"type":"text","text":"Belle II","align":"left","baseline":"middle","fontSize":13,"fontWeight":"bold","fontStyle":"italic","color":"#222"},"encoding":{"x":{"datum":0.18,"type":"quantitative","axis":{"orient":"bottom","values":[0.2,0.4,0.6,0.8,1.2,1.4,1.6,1.8,2.2,2.4,2.6,2.8,3.2,3.4,3.6,3.8,4.2,4.4,4.6,4.8],"labels":false,"title":null,"domain":false,"tickSize":-3}},"y":{"datum":1.4,"type":"quantitative","axis":{"orient":"left","values":[0.05,0.1,0.15,0.25,0.3,0.35,0.45,0.5,0.55,0.65,0.7,0.75,0.85,0.9,0.95,1.05,1.1,1.15,1.25,1.3,1.35,1.45],"labels":false,"title":null,"domain":false,"tickSize":-3}}}},
{"data":{"values":[{}]},"mark":{"type":"text","text":"(Simulation)","align":"left","baseline":"middle","fontSize":12.5,"color":"#444"},"encoding":{"x":{"datum":0.95,"type":"quantitative","axis":{"orient":"top","values":[0.2,0.4,0.6,0.8,1.2,1.4,1.6,1.8,2.2,2.4,2.6,2.8,3.2,3.4,3.6,3.8,4.2,4.4,4.6,4.8],"labels":false,"title":null,"domain":false,"tickSize":-3}},"y":{"datum":1.4,"type":"quantitative","axis":{"orient":"right","values":[0.05,0.1,0.15,0.25,0.3,0.35,0.45,0.5,0.55,0.65,0.7,0.75,0.85,0.9,0.95,1.05,1.1,1.15,1.25,1.3,1.35,1.45],"labels":false,"title":null,"domain":false,"tickSize":-3}}}},
{"data":{"values":[{}]},"mark":{"type":"text","text":"mₐ = 4.5 GeV/c²","align":"left","baseline":"middle","fontSize":12.5,"color":"#444"},"encoding":{"x":{"datum":0.18,"type":"quantitative","axis":null},"y":{"datum":1.268,"type":"quantitative","axis":null}}},
{"data":{"values":[{}]},"mark":{"type":"text","text":"N","align":"left","baseline":"middle","fontSize":12.5,"fontStyle":"italic","color":"#444"},"encoding":{"x":{"datum":0.18,"type":"quantitative","axis":null},"y":{"datum":1.186,"type":"quantitative","axis":null}}},
{"data":{"values":[{}]},"mark":{"type":"text","text":"CDCHits","align":"left","baseline":"middle","fontSize":9,"color":"#444"},"encoding":{"x":{"datum":0.28,"type":"quantitative","axis":null},"y":{"datum":1.166,"type":"quantitative","axis":null}}}
]}
]
}
